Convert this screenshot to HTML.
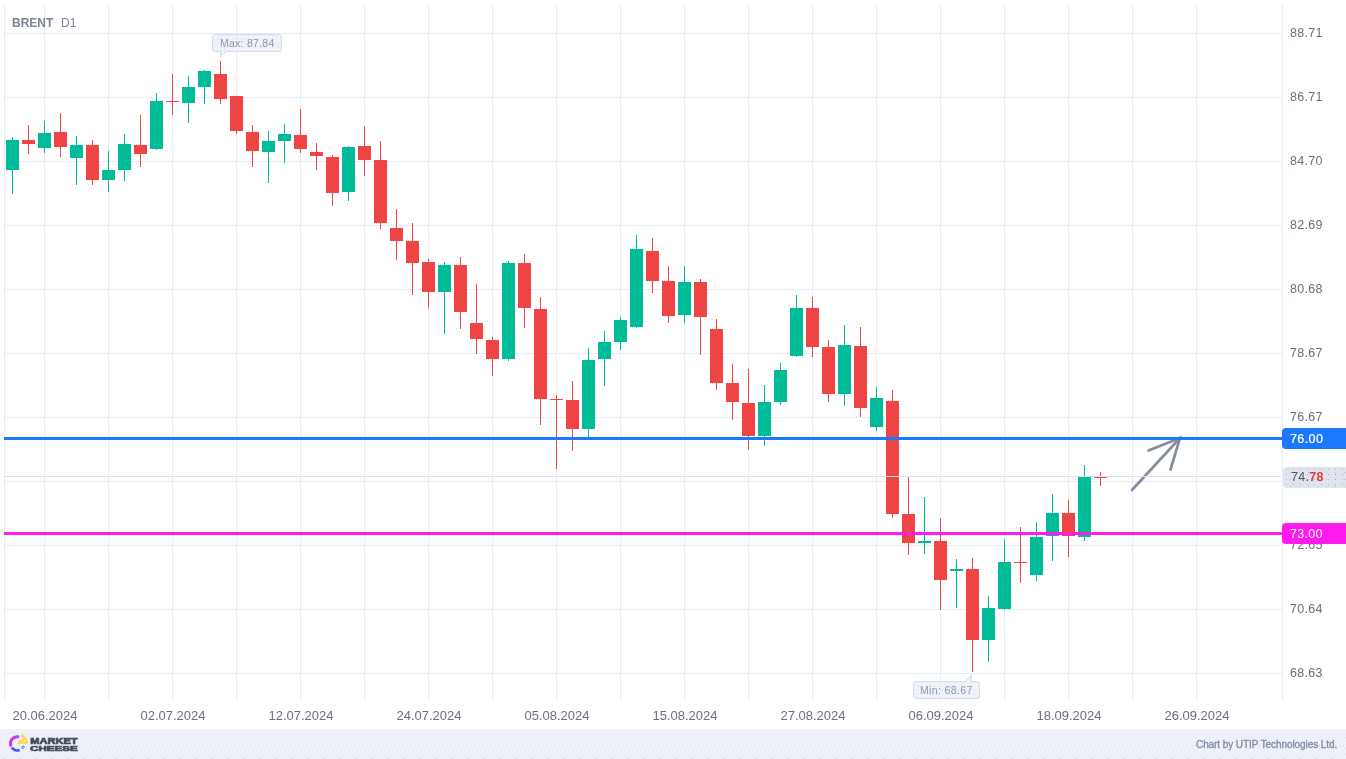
<!DOCTYPE html>
<html><head><meta charset="utf-8"><title>BRENT D1</title>
<style>
html,body{margin:0;padding:0;background:#fff;}
body{width:1346px;height:759px;position:relative;overflow:hidden;font-family:"Liberation Sans",sans-serif;}
#chart{position:absolute;left:0;top:0;}
.t{position:absolute;white-space:nowrap;line-height:1;will-change:transform;}
.ax{font-size:12.5px;color:#667080;left:1290px;letter-spacing:0.3px;}
.dt{font-size:13px;color:#667080;width:100px;text-align:center;top:709px;}
.tag{position:absolute;left:1282px;width:64px;height:21px;border-radius:4px 0 0 4px;}
.tag span{will-change:transform;position:absolute;left:8px;top:4px;font-size:12.5px;letter-spacing:0.3px;line-height:1;color:#fff;}
.lbl{position:absolute;box-sizing:border-box;border:1px solid #d6dcea;border-radius:3px;background:rgba(231,235,245,.82);font-size:10.5px;color:#8e98aa;line-height:1;}
.dots{background-image:radial-gradient(circle,rgba(255,255,255,.75) 0.6px,transparent 0.9px);background-size:4px 4px;}
.ddots{background-image:radial-gradient(circle,rgba(110,120,140,.45) 0.5px,transparent 0.8px),radial-gradient(circle,rgba(110,120,140,.35) 0.5px,transparent 0.8px);background-size:7px 5px,9px 7px;background-position:0 0,3px 2px;}
#footer{position:absolute;left:0;top:729px;width:1346px;height:30px;background:#eef1f7;}
</style></head><body>
<svg id="chart" width="1346" height="759" viewBox="0 0 1346 759" shape-rendering="crispEdges">
<rect x="44" y="5" width="1" height="696" fill="#e6ecfa"/>
<rect x="108" y="5" width="1" height="696" fill="#e6ecfa"/>
<rect x="172" y="5" width="1" height="696" fill="#e6ecfa"/>
<rect x="236" y="5" width="1" height="696" fill="#e6ecfa"/>
<rect x="300" y="5" width="1" height="696" fill="#e6ecfa"/>
<rect x="364" y="5" width="1" height="696" fill="#e6ecfa"/>
<rect x="428" y="5" width="1" height="696" fill="#e6ecfa"/>
<rect x="492" y="5" width="1" height="696" fill="#e6ecfa"/>
<rect x="556" y="5" width="1" height="696" fill="#e6ecfa"/>
<rect x="620" y="5" width="1" height="696" fill="#e6ecfa"/>
<rect x="684" y="5" width="1" height="696" fill="#e6ecfa"/>
<rect x="748" y="5" width="1" height="696" fill="#e6ecfa"/>
<rect x="812" y="5" width="1" height="696" fill="#e6ecfa"/>
<rect x="876" y="5" width="1" height="696" fill="#e6ecfa"/>
<rect x="940" y="5" width="1" height="696" fill="#e6ecfa"/>
<rect x="1004" y="5" width="1" height="696" fill="#e6ecfa"/>
<rect x="1068" y="5" width="1" height="696" fill="#e6ecfa"/>
<rect x="1132" y="5" width="1" height="696" fill="#e6ecfa"/>
<rect x="1196" y="5" width="1" height="696" fill="#e6ecfa"/>
<rect x="4" y="5" width="1" height="696" fill="#e6ecfa"/>
<rect x="1282" y="5" width="1" height="696" fill="#e6ecfa"/>
<rect x="4" y="33" width="1278" height="1" fill="#e6ecfa"/>
<rect x="4" y="97" width="1278" height="1" fill="#e6ecfa"/>
<rect x="4" y="161" width="1278" height="1" fill="#e6ecfa"/>
<rect x="4" y="225" width="1278" height="1" fill="#e6ecfa"/>
<rect x="4" y="289" width="1278" height="1" fill="#e6ecfa"/>
<rect x="4" y="353" width="1278" height="1" fill="#e6ecfa"/>
<rect x="4" y="417" width="1278" height="1" fill="#e6ecfa"/>
<rect x="4" y="481" width="1278" height="1" fill="#e6ecfa"/>
<rect x="4" y="545" width="1278" height="1" fill="#e6ecfa"/>
<rect x="4" y="609" width="1278" height="1" fill="#e6ecfa"/>
<rect x="4" y="673" width="1278" height="1" fill="#e6ecfa"/>
<rect x="12" y="137" width="1" height="57" fill="#00bc98"/>
<rect x="6" y="140" width="13" height="30" fill="#00bc98"/>
<rect x="28" y="125" width="1" height="29" fill="#ee4444"/>
<rect x="22" y="140" width="13" height="4" fill="#ee4444"/>
<rect x="44" y="121" width="1" height="32" fill="#00bc98"/>
<rect x="38" y="133" width="13" height="15" fill="#00bc98"/>
<rect x="60" y="113" width="1" height="44" fill="#ee4444"/>
<rect x="54" y="132" width="13" height="15" fill="#ee4444"/>
<rect x="76" y="136" width="1" height="49" fill="#00bc98"/>
<rect x="70" y="145" width="13" height="13" fill="#00bc98"/>
<rect x="92" y="140" width="1" height="45" fill="#ee4444"/>
<rect x="86" y="145" width="13" height="35" fill="#ee4444"/>
<rect x="108" y="151" width="1" height="41" fill="#00bc98"/>
<rect x="102" y="170" width="13" height="10" fill="#00bc98"/>
<rect x="124" y="134" width="1" height="47" fill="#00bc98"/>
<rect x="118" y="144" width="13" height="26" fill="#00bc98"/>
<rect x="140" y="115" width="1" height="52" fill="#ee4444"/>
<rect x="134" y="145" width="13" height="9" fill="#ee4444"/>
<rect x="156" y="93" width="1" height="57" fill="#00bc98"/>
<rect x="150" y="101" width="13" height="48" fill="#00bc98"/>
<rect x="172" y="74" width="1" height="41" fill="#ee4444"/>
<rect x="166" y="101" width="13" height="1" fill="#ee4444"/>
<rect x="188" y="76" width="1" height="47" fill="#00bc98"/>
<rect x="182" y="87" width="13" height="16" fill="#00bc98"/>
<rect x="204" y="70" width="1" height="34" fill="#00bc98"/>
<rect x="198" y="71" width="13" height="16" fill="#00bc98"/>
<rect x="220" y="61" width="1" height="43" fill="#ee4444"/>
<rect x="214" y="74" width="13" height="25" fill="#ee4444"/>
<rect x="236" y="96" width="1" height="38" fill="#ee4444"/>
<rect x="230" y="96" width="13" height="35" fill="#ee4444"/>
<rect x="252" y="125" width="1" height="42" fill="#ee4444"/>
<rect x="246" y="132" width="13" height="19" fill="#ee4444"/>
<rect x="268" y="131" width="1" height="52" fill="#00bc98"/>
<rect x="262" y="141" width="13" height="11" fill="#00bc98"/>
<rect x="284" y="124" width="1" height="39" fill="#00bc98"/>
<rect x="278" y="134" width="13" height="7" fill="#00bc98"/>
<rect x="300" y="109" width="1" height="44" fill="#ee4444"/>
<rect x="294" y="135" width="13" height="14" fill="#ee4444"/>
<rect x="316" y="143" width="1" height="27" fill="#ee4444"/>
<rect x="310" y="152" width="13" height="4" fill="#ee4444"/>
<rect x="332" y="155" width="1" height="51" fill="#ee4444"/>
<rect x="326" y="157" width="13" height="36" fill="#ee4444"/>
<rect x="348" y="146" width="1" height="55" fill="#00bc98"/>
<rect x="342" y="147" width="13" height="45" fill="#00bc98"/>
<rect x="364" y="126" width="1" height="50" fill="#ee4444"/>
<rect x="358" y="146" width="13" height="14" fill="#ee4444"/>
<rect x="380" y="141" width="1" height="88" fill="#ee4444"/>
<rect x="374" y="160" width="13" height="63" fill="#ee4444"/>
<rect x="396" y="209" width="1" height="51" fill="#ee4444"/>
<rect x="390" y="228" width="13" height="13" fill="#ee4444"/>
<rect x="412" y="223" width="1" height="72" fill="#ee4444"/>
<rect x="406" y="241" width="13" height="22" fill="#ee4444"/>
<rect x="428" y="259" width="1" height="49" fill="#ee4444"/>
<rect x="422" y="262" width="13" height="30" fill="#ee4444"/>
<rect x="444" y="262" width="1" height="72" fill="#00bc98"/>
<rect x="438" y="265" width="13" height="27" fill="#00bc98"/>
<rect x="460" y="257" width="1" height="72" fill="#ee4444"/>
<rect x="454" y="265" width="13" height="47" fill="#ee4444"/>
<rect x="476" y="284" width="1" height="70" fill="#ee4444"/>
<rect x="470" y="323" width="13" height="16" fill="#ee4444"/>
<rect x="492" y="337" width="1" height="39" fill="#ee4444"/>
<rect x="486" y="340" width="13" height="19" fill="#ee4444"/>
<rect x="508" y="261" width="1" height="100" fill="#00bc98"/>
<rect x="502" y="263" width="13" height="96" fill="#00bc98"/>
<rect x="524" y="254" width="1" height="74" fill="#ee4444"/>
<rect x="518" y="263" width="13" height="45" fill="#ee4444"/>
<rect x="540" y="297" width="1" height="128" fill="#ee4444"/>
<rect x="534" y="309" width="13" height="90" fill="#ee4444"/>
<rect x="556" y="395" width="1" height="74" fill="#ee4444"/>
<rect x="550" y="399" width="13" height="1" fill="#ee4444"/>
<rect x="572" y="381" width="1" height="70" fill="#ee4444"/>
<rect x="566" y="400" width="13" height="29" fill="#ee4444"/>
<rect x="588" y="348" width="1" height="92" fill="#00bc98"/>
<rect x="582" y="360" width="13" height="69" fill="#00bc98"/>
<rect x="604" y="331" width="1" height="55" fill="#00bc98"/>
<rect x="598" y="342" width="13" height="17" fill="#00bc98"/>
<rect x="620" y="317" width="1" height="33" fill="#00bc98"/>
<rect x="614" y="320" width="13" height="22" fill="#00bc98"/>
<rect x="636" y="235" width="1" height="93" fill="#00bc98"/>
<rect x="630" y="249" width="13" height="78" fill="#00bc98"/>
<rect x="652" y="238" width="1" height="55" fill="#ee4444"/>
<rect x="646" y="251" width="13" height="30" fill="#ee4444"/>
<rect x="668" y="266" width="1" height="57" fill="#ee4444"/>
<rect x="662" y="281" width="13" height="35" fill="#ee4444"/>
<rect x="684" y="266" width="1" height="57" fill="#00bc98"/>
<rect x="678" y="282" width="13" height="33" fill="#00bc98"/>
<rect x="700" y="279" width="1" height="76" fill="#ee4444"/>
<rect x="694" y="282" width="13" height="35" fill="#ee4444"/>
<rect x="716" y="319" width="1" height="71" fill="#ee4444"/>
<rect x="710" y="329" width="13" height="54" fill="#ee4444"/>
<rect x="732" y="364" width="1" height="56" fill="#ee4444"/>
<rect x="726" y="383" width="13" height="19" fill="#ee4444"/>
<rect x="748" y="369" width="1" height="81" fill="#ee4444"/>
<rect x="742" y="403" width="13" height="33" fill="#ee4444"/>
<rect x="764" y="385" width="1" height="61" fill="#00bc98"/>
<rect x="758" y="402" width="13" height="34" fill="#00bc98"/>
<rect x="780" y="363" width="1" height="42" fill="#00bc98"/>
<rect x="774" y="370" width="13" height="32" fill="#00bc98"/>
<rect x="796" y="295" width="1" height="62" fill="#00bc98"/>
<rect x="790" y="308" width="13" height="48" fill="#00bc98"/>
<rect x="812" y="297" width="1" height="60" fill="#ee4444"/>
<rect x="806" y="308" width="13" height="39" fill="#ee4444"/>
<rect x="828" y="340" width="1" height="62" fill="#ee4444"/>
<rect x="822" y="347" width="13" height="47" fill="#ee4444"/>
<rect x="844" y="325" width="1" height="81" fill="#00bc98"/>
<rect x="838" y="345" width="13" height="49" fill="#00bc98"/>
<rect x="860" y="327" width="1" height="90" fill="#ee4444"/>
<rect x="854" y="346" width="13" height="62" fill="#ee4444"/>
<rect x="876" y="387" width="1" height="44" fill="#00bc98"/>
<rect x="870" y="398" width="13" height="29" fill="#00bc98"/>
<rect x="892" y="390" width="1" height="128" fill="#ee4444"/>
<rect x="886" y="401" width="13" height="113" fill="#ee4444"/>
<rect x="908" y="477" width="1" height="78" fill="#ee4444"/>
<rect x="902" y="514" width="13" height="29" fill="#ee4444"/>
<rect x="924" y="497" width="1" height="57" fill="#00bc98"/>
<rect x="918" y="541" width="13" height="2" fill="#00bc98"/>
<rect x="940" y="518" width="1" height="92" fill="#ee4444"/>
<rect x="934" y="541" width="13" height="39" fill="#ee4444"/>
<rect x="956" y="559" width="1" height="49" fill="#00bc98"/>
<rect x="950" y="569" width="13" height="2" fill="#00bc98"/>
<rect x="972" y="558" width="1" height="114" fill="#ee4444"/>
<rect x="966" y="569" width="13" height="71" fill="#ee4444"/>
<rect x="988" y="596" width="1" height="66" fill="#00bc98"/>
<rect x="982" y="608" width="13" height="32" fill="#00bc98"/>
<rect x="1004" y="539" width="1" height="71" fill="#00bc98"/>
<rect x="998" y="562" width="13" height="47" fill="#00bc98"/>
<rect x="1020" y="527" width="1" height="56" fill="#ee4444"/>
<rect x="1014" y="562" width="13" height="1" fill="#ee4444"/>
<rect x="1036" y="522" width="1" height="59" fill="#00bc98"/>
<rect x="1030" y="537" width="13" height="38" fill="#00bc98"/>
<rect x="1052" y="494" width="1" height="67" fill="#00bc98"/>
<rect x="1046" y="513" width="13" height="23" fill="#00bc98"/>
<rect x="1068" y="500" width="1" height="57" fill="#ee4444"/>
<rect x="1062" y="513" width="13" height="23" fill="#ee4444"/>
<rect x="1084" y="465" width="1" height="76" fill="#00bc98"/>
<rect x="1078" y="477" width="13" height="60" fill="#00bc98"/>
<rect x="1100" y="472" width="1" height="14" fill="#ee4444"/>
<rect x="1094" y="477" width="13" height="1" fill="#ee4444"/>
<g fill="none" stroke="#868e9d" stroke-width="2.7" stroke-linecap="round" shape-rendering="geometricPrecision"><path d="M1132 490 L1180 438"/><path d="M1148.5 450.5 L1180 438 L1170.5 469.5"/></g>
<rect x="4" y="476" width="1278" height="1" fill="#dde1ea"/>
<rect x="4" y="437" width="1279" height="3" fill="#1b79fd"/>
<rect x="4" y="532" width="1279" height="3" fill="#ff1aee"/>
</svg>
<div class="t" style="left:12px;top:17px;font-size:12px;font-weight:bold;color:#7b8596;">BRENT</div>
<div class="t" style="left:61px;top:17px;font-size:12px;color:#7b8596;">D1</div>
<div class="t ax" style="top:26.5px">88.71</div>
<div class="t ax" style="top:90.5px">86.71</div>
<div class="t ax" style="top:154.5px">84.70</div>
<div class="t ax" style="top:218.5px">82.69</div>
<div class="t ax" style="top:282.5px">80.68</div>
<div class="t ax" style="top:346.5px">78.67</div>
<div class="t ax" style="top:410.5px">76.67</div>
<div class="t ax" style="top:538.5px">72.65</div>
<div class="t ax" style="top:602.5px">70.64</div>
<div class="t ax" style="top:666.5px">68.63</div>
<div class="t dt" style="left:-5.399999999999999px">20.06.2024</div>
<div class="t dt" style="left:122.6px">02.07.2024</div>
<div class="t dt" style="left:250.6px">12.07.2024</div>
<div class="t dt" style="left:378.6px">24.07.2024</div>
<div class="t dt" style="left:506.6px">05.08.2024</div>
<div class="t dt" style="left:634.6px">15.08.2024</div>
<div class="t dt" style="left:762.6px">27.08.2024</div>
<div class="t dt" style="left:890.6px">06.09.2024</div>
<div class="t dt" style="left:1018.6px">18.09.2024</div>
<div class="t dt" style="left:1146.6px">26.09.2024</div>

<div class="tag" style="top:428px;background:#1b79fd;"><span style="top:5.3px;left:7.5px;letter-spacing:0.4px;-webkit-text-stroke:0.2px #fff;">76.00</span></div>
<div class="tag ddots" style="top:467px;left:1283px;width:63px;background-color:#e0e4ec;"><span style="color:#4c5362;left:7.5px">74.<b style="color:#e83a3a">78</b></span></div>
<div class="tag" style="top:523px;background:#ff1aee;"><span style="top:5px">73.00</span></div>

<div class="lbl dots" style="left:212px;top:34px;width:70px;height:18px;"><span style="will-change:transform;position:absolute;left:7px;top:2.5px;letter-spacing:0.26px;">Max: 87.84</span></div>
<svg style="position:absolute;left:219px;top:50px" width="10" height="9"><path d="M1.5 0 V7 L7.5 1.5" fill="#eceff7" stroke="#d6dcea" stroke-width="1"/><rect x="2" y="0" width="5" height="2" fill="#eceff7"/></svg>
<div class="lbl dots" style="left:913px;top:681px;width:67px;height:18px;"><span style="will-change:transform;position:absolute;left:6px;top:2.5px;letter-spacing:0.36px;">Min: 68.67</span></div>
<svg style="position:absolute;left:963px;top:673px" width="10" height="9"><path d="M8.5 9 V2 L2.5 7.5" fill="#eceff7" stroke="#d6dcea" stroke-width="1"/><rect x="3" y="7" width="5" height="2" fill="#eceff7"/></svg>

<div id="footer"></div>
<svg style="position:absolute;left:0;top:729px" width="1346" height="30" shape-rendering="crispEdges">
<defs>
<pattern id="pa" width="3" height="8" patternUnits="userSpaceOnUse"><rect x="0" y="4" width="1" height="1" fill="#dfe6f8"/></pattern>
<pattern id="pb" width="4" height="8" patternUnits="userSpaceOnUse"><rect x="1" y="0" width="1" height="1" fill="#dfe6f8"/></pattern>
<pattern id="pc" width="4" height="30" patternUnits="userSpaceOnUse"><rect x="3" y="16" width="1" height="1" fill="#d3d6dc"/></pattern>
<pattern id="pd" width="8" height="6" patternUnits="userSpaceOnUse"><rect x="1" y="1" width="1" height="1" fill="#dfe6f8"/><rect x="5" y="4" width="1" height="1" fill="#dfe6f8"/></pattern>
<pattern id="pe" width="16" height="30" patternUnits="userSpaceOnUse"><rect x="3" y="29" width="1" height="1" fill="#c9ccd2"/></pattern>
</defs>
<rect x="0" y="0" width="1346" height="14" fill="url(#pa)"/>
<rect x="0" y="8" width="1346" height="6" fill="url(#pb)"/>
<rect x="0" y="18" width="1346" height="12" fill="url(#pd)"/>
<rect x="0" y="0" width="1346" height="30" fill="url(#pc)"/>
<rect x="0" y="0" width="1346" height="30" fill="url(#pe)"/>
</svg>
<svg style="position:absolute;left:0;top:729px;will-change:transform" width="100" height="30" viewBox="0 729 100 30">
<rect x="0" y="745" width="84" height="1" fill="#eef1f7"/>
<g fill="none">
<path d="M18.88 736.94 A6.8 6.8 0 0 0 11.15 746.45" stroke="#ff24e8" stroke-width="2.9"/>
<path d="M19.39 736.24 A7.6 7.6 0 0 0 10.41 746.76" stroke="#1f63ff" stroke-width="0.9" stroke-dasharray="0.9 1.5"/>
<path d="M19.39 737.82 A6.1 6.1 0 0 0 11.77 746.13" stroke="#1f63ff" stroke-width="0.9" stroke-dasharray="0.9 1.5" stroke-dashoffset="1.2"/>
<path d="M11.82 747.58 A6.8 6.8 0 0 0 19.65 749.93" stroke="#1f6bff" stroke-width="2.6"/>
<path d="M11.63 748.31 A7.4 7.4 0 0 0 19.59 750.59" stroke="#ff24e8" stroke-width="0.9" stroke-dasharray="0.9 1.6"/>
<path d="M12.69 747.70 A6.2 6.2 0 0 0 18.90 749.54" stroke="#ff24e8" stroke-width="0.9" stroke-dasharray="0.9 1.6" stroke-dashoffset="1.2"/>
<path d="M22.11 748.36 A6.8 6.8 0 0 0 23.69 745.88" stroke="#1f6bff" stroke-width="2.6" stroke-dasharray="1.1 0.8"/>
</g>
<path d="M22.46 734 L28 740.5 L28 743.8 L16.9 743.8 L19.3 740.2 L23.1 739.9 L22.8 737.2 L21 736.9 L21 734.8 Z" fill="#ffd93b"/>
<circle cx="24.9" cy="741" r="0.95" fill="#e8eefc"/>
<g font-family="Liberation Sans, sans-serif" font-weight="bold" font-size="8.2" fill="#434c5c" stroke="#434c5c" stroke-width="0.7" stroke-linejoin="miter">
<text x="30.3" y="743.6" textLength="47.2" lengthAdjust="spacingAndGlyphs">MARKET</text>
<text x="30.1" y="750.9" textLength="47.5" lengthAdjust="spacingAndGlyphs" font-size="8">CHEESE</text>
</g>
</svg>
<div class="t" style="right:8.5px;top:740.3px;font-size:10px;color:#7f8ba0;letter-spacing:-0.08px;-webkit-text-stroke:0.3px #7f8ba0;">Chart by UTIP Technologies Ltd.</div>
</body></html>
